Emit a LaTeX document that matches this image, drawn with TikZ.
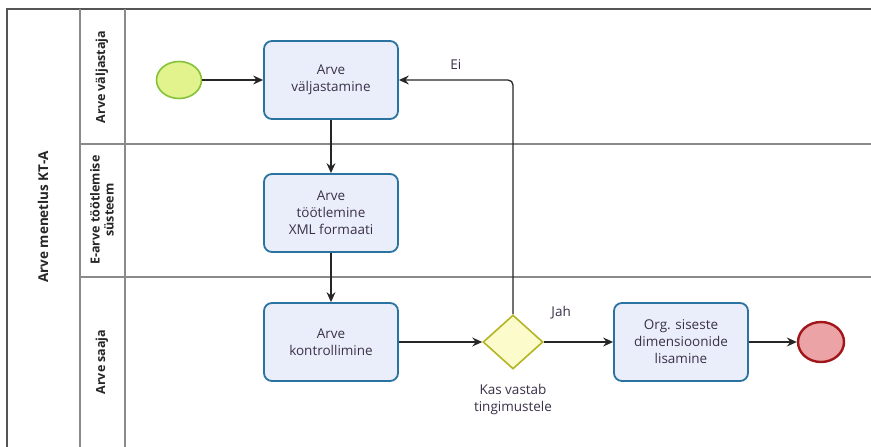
\documentclass[tikz,border=0pt]{standalone}
\usepackage{fontspec}
\setmainfont{Open Sans}
\usetikzlibrary{arrows.meta,shapes.geometric,calc}
\definecolor{taskfill}{HTML}{EAEEFB}
\definecolor{taskline}{HTML}{2A72A0}
\definecolor{txt}{HTML}{3A3048}
\definecolor{startfill}{HTML}{E2F28C}
\definecolor{startline}{HTML}{86C13A}
\definecolor{endfill}{HTML}{EBA3A6}
\definecolor{endline}{HTML}{A0161A}
\definecolor{gwfill}{HTML}{FBFBCC}
\definecolor{gwline}{HTML}{B5B524}
\definecolor{poolline}{HTML}{555555}
\definecolor{laneline}{HTML}{8A8A8A}
\begin{document}
\begin{tikzpicture}[x=1pt,y=-1pt,
  taskbox/.style={draw=taskline,fill=taskfill,line width=1.8pt,rounded corners=8pt,
    minimum width=134pt,minimum height=78pt,align=center,text=txt,font=\fontsize{13.5}{17}\selectfont},
  startev/.style={ellipse,draw=startline,fill=startfill,line width=1.6pt,minimum width=45pt,minimum height=37pt,inner sep=0pt},
  endev/.style={ellipse,draw=endline,fill=endfill,line width=2.4pt,minimum width=46pt,minimum height=40pt,inner sep=0pt},
  gateway/.style={diamond,draw=gwline,fill=gwfill,line width=1.6pt,minimum width=60pt,minimum height=54pt,inner sep=0pt,aspect=1.1},
  flow/.style={line width=1.3pt,draw=black!85,-{Stealth[length=10pt,width=9pt,inset=3.5pt]}},
  lbl/.style={text=txt,font=\fontsize{13.5}{17}\selectfont,align=center},
  lanelbl/.style={rotate=90,font=\bfseries\fontsize{12.5}{14}\selectfont,align=center,text=black!85},
  poolrule/.style={draw=poolline,line width=1.4pt},
  lanerule/.style={draw=laneline,line width=1.1pt}]
\useasboundingbox (0,0) rectangle (871,447);
\fill[white] (0,0) rectangle (871,447);

% pool and lane frame
\draw[poolrule] (7,447) -- (7,9) -- (871,9);
\draw[lanerule] (80,9) -- (80,447);
\draw[lanerule] (125,9) -- (125,447);
\draw[lanerule] (80,144) -- (871,144);
\draw[lanerule] (80,277) -- (871,277);

% pool and lane titles
\node[lanelbl,font=\bfseries\fontsize{13.5}{15}\selectfont] (pool) at (43,217) {Arve menetlus KT-A};
\node[lanelbl] (lane1) at (102,77) {Arve väljastaja};
\node[lanelbl] (lane2) at (102,210) {E-arve töötlemise\\süsteem};
\node[lanelbl] (lane3) at (102,362) {Arve saaja};

% flow objects
\node[startev] (start) at (179,80) {};
\node[taskbox] (t1) at (331,80) {Arve\\väljastamine};
\node[taskbox] (t2) at (331,213) {Arve\\töötlemine\\XML formaati};
\node[taskbox] (t3) at (331,342) {Arve\\kontrollimine};
\node[gateway] (gw) at (513,342) {};
\node[lbl] (gwlbl) at (513,399) {Kas vastab\\tingimustele};
\node[taskbox] (t4) at (681,342) {Org. siseste\\dimensioonide\\lisamine};
\node[endev] (end) at (821,342) {};

% sequence flows
\draw[flow] (start) -- (t1);
\draw[flow] (t1) -- (t2);
\draw[flow] (t2) -- (t3);
\draw[flow] (t3) -- (gw);
\draw[flow] (gw) -- node[lbl,pos=0.25,above=19pt] (jah) {Jah} (t4);
\draw[flow] (t4) -- (end);
\draw[flow,rounded corners=5pt] (gw.north) -- (gw.north |- t1.east) -- node[lbl,pos=0.5,above=7pt] (ei) {Ei} (t1.east);
\end{tikzpicture}
\end{document}
